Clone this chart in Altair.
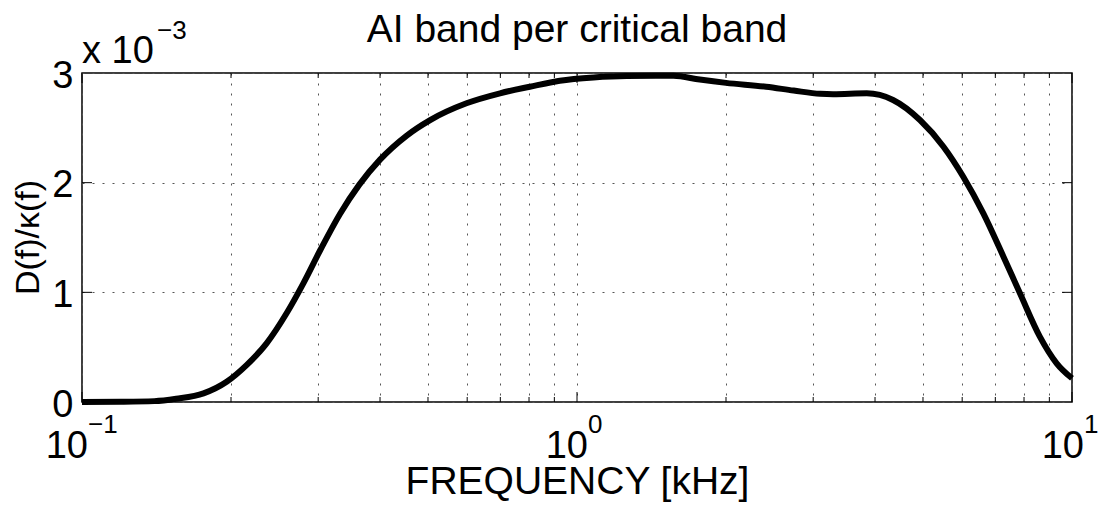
import altair as alt
import pandas as pd

# ---- data ----
freq_khz = [0.10, 0.12, 0.14, 0.155, 0.176, 0.196, 0.215, 0.236, 0.259, 0.280,
            0.303, 0.332, 0.363, 0.40, 0.453, 0.505, 0.598, 0.699, 0.803,
            0.923, 1.08, 1.26, 1.566, 1.77, 2.0, 2.41, 2.74, 3.1, 3.29,
            3.85, 4.35, 4.93, 5.5, 6.03, 6.62, 7.27, 7.85, 8.61, 9.31, 10.0]
d_over_kappa = [0.000, 0.002, 0.008, 0.030, 0.079, 0.185, 0.337, 0.535, 0.809, 1.082,
                1.386, 1.715, 1.980, 2.210, 2.430, 2.571, 2.724, 2.815, 2.875,
                2.930, 2.960, 2.973, 2.975, 2.940, 2.910, 2.875, 2.840, 2.810, 2.806,
                2.815, 2.754, 2.571, 2.328, 2.054, 1.720, 1.325, 0.991, 0.596, 0.353,
                0.216]
d_over_kappa = [v * 1e-3 for v in d_over_kappa]

title_text = "AI band per critical band"
x_title = "FREQUENCY [kHz]"
y_title = "D(f)/\u03ba(f)"
x_major = [0.1, 1, 10]
x_major_exp = ["\u22121", "0", "1"]
x_minor = [0.2, 0.3, 0.4, 0.5, 0.6, 0.7, 0.8, 0.9, 2, 3, 4, 5, 6, 7, 8, 9]
y_ticks = [0, 0.001, 0.002, 0.003]
y_inner_ticks = [0.001, 0.002]

W, H = 990, 329
FONT = "Liberation Sans"
FS = 38
SUP = 26

df = pd.DataFrame({"f": freq_khz, "v": d_over_kappa})
xs = alt.Scale(type="log", domain=[0.1, 10], nice=False)
ys = alt.Scale(domain=[0, 0.003], nice=False, zero=False)

grid_dash = [2, 8]
grid_col = "#555555"

x_axis = alt.Axis(values=x_major + x_minor, labels=False, ticks=False, domain=False,
                  grid=True, gridDash=grid_dash, gridColor=grid_col, gridWidth=1,
                  title=x_title, titleFont=FONT, titleFontSize=FS + 1,
                  titleFontWeight="normal", titleColor="black",
                  titleX=W / 2, titleY=91, titleAlign="center",
                  titleBaseline="alphabetic")
y_axis = alt.Axis(values=y_ticks, labelExpr="format(datum.value*1000, 'd')",
                  ticks=False, domain=False, labelPadding=9, labelOffset=3,
                  labelFont=FONT, labelFontSize=FS, labelColor="black",
                  grid=True, gridDash=grid_dash, gridColor=grid_col, gridWidth=1,
                  title=y_title, titleFont=FONT, titleFontSize=34,
                  titleFontWeight="normal", titleColor="black",
                  titleAngle=270, titleX=-44, titleY=164,
                  titleAlign="center", titleBaseline="alphabetic")

X = lambda: alt.X("f:Q", scale=xs, axis=x_axis)
Y = lambda: alt.Y("v:Q", scale=ys, axis=y_axis)

line = alt.Chart(df).mark_line(color="black", strokeWidth=6,
                               interpolate="monotone").encode(x=X(), y=Y())

layers = [line]

# inward ticks on the x axis (bottom and top)
maj = pd.DataFrame({"f": x_major})
mino = pd.DataFrame({"f": x_minor})
for d, ln in ((maj, 10), (mino, 5)):
    layers.append(alt.Chart(d).mark_rule(color="black", strokeWidth=1).encode(
        x=X(), y=alt.value(H), y2=alt.value(H - ln)))
    layers.append(alt.Chart(d).mark_rule(color="black", strokeWidth=1).encode(
        x=X(), y=alt.value(0), y2=alt.value(ln)))

# inward ticks on the y axis (left and right)
yt = pd.DataFrame({"v": y_inner_ticks})
layers.append(alt.Chart(yt).mark_rule(color="black", strokeWidth=1).encode(
    y=Y(), x=alt.value(0), x2=alt.value(10)))
layers.append(alt.Chart(yt).mark_rule(color="black", strokeWidth=1).encode(
    y=Y(), x=alt.value(W - 10), x2=alt.value(W)))

# x tick labels: "10" with superscript exponent
label_shift = [6, 11, 12]
for f, e, s in zip(x_major, x_major_exp, label_shift):
    d = pd.DataFrame({"f": [f], "base": ["10"], "exp": [e]})
    layers.append(alt.Chart(d).mark_text(font=FONT, fontSize=FS, align="right",
                                         baseline="alphabetic", dx=s, color="black").encode(
        x=X(), y=alt.value(H + 56), text="base:N"))
    layers.append(alt.Chart(d).mark_text(font=FONT, fontSize=SUP, align="left",
                                         baseline="alphabetic", dx=s, color="black").encode(
        x=X(), y=alt.value(H + 31), text="exp:N"))

# y exponent annotation "x 10^-3"
mult = pd.DataFrame({"base": ["x 10"], "exp": ["\u22123"]})
layers.append(alt.Chart(mult).mark_text(font=FONT, fontSize=FS, align="left",
                                        baseline="alphabetic", color="black").encode(
    x=alt.value(0), y=alt.value(-10), text="base:N"))
layers.append(alt.Chart(mult).mark_text(font=FONT, fontSize=SUP, align="left",
                                        baseline="alphabetic", color="black").encode(
    x=alt.value(75), y=alt.value(-34), text="exp:N"))

# chart title
tdf = pd.DataFrame({"t": [title_text]})
layers.append(alt.Chart(tdf).mark_text(font=FONT, fontSize=FS + 1, align="center",
                                       baseline="alphabetic", color="black").encode(
    x=alt.value(W / 2), y=alt.value(-31), text="t:N"))

chart = alt.layer(*layers).properties(
    width=W, height=H,
    autosize=alt.AutoSizeParams(type="none"),
    padding={"left": 74, "top": 65, "right": 27, "bottom": 106},
).configure_view(stroke="black", strokeWidth=1.5)

chart.save("out.html", embed_options={"renderer": "svg", "actions": False})
